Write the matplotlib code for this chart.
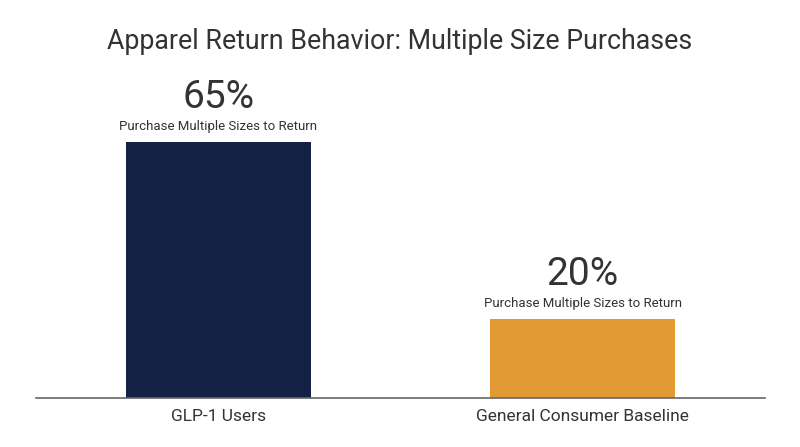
import matplotlib
matplotlib.use('Agg')
import matplotlib.pyplot as plt

categories = ['GLP-1 Users', 'General Consumer Baseline']
values = [65, 20]
sublabel = 'Purchase Multiple Sizes to Return'
bar_colors = ['#132144', '#E29B33']
title = 'Apparel Return Behavior: Multiple Size Purchases'

plt.rcParams['font.family'] = ['Roboto', 'DejaVu Sans']
text_color = '#333333'

fig = plt.figure(figsize=(8, 4.47), dpi=100)
ax = fig.add_axes([0.045, 0.1096, 0.911, 0.881])

x = range(len(categories))
ax.bar(x, values, width=0.507, color=bar_colors)
ax.set_xlim(-0.5, 1.5)
ax.set_ylim(0, 100)

for xi, v in zip(x, values):
    ax.annotate(f'{v}%', (xi, v), xytext=(0, 32), textcoords='offset points',
                ha='center', va='center', fontsize=28, color=text_color)
    ax.annotate(sublabel, (xi, v), xytext=(0, 11), textcoords='offset points',
                ha='center', va='center', fontsize=9.5, color=text_color)

ax.set_xticks(list(x))
ax.set_xticklabels(categories, fontsize=12.5, color=text_color)
ax.tick_params(axis='x', length=0, pad=8)
ax.set_yticks([])
for s in ['top', 'right', 'left']:
    ax.spines[s].set_visible(False)
ax.spines['bottom'].set_color('#666666')
ax.spines['bottom'].set_linewidth(1.2)

fig.text(0.5, 0.907, title, ha='center', va='center', fontsize=19.3, color=text_color)

fig.savefig('out.png', dpi=100)
